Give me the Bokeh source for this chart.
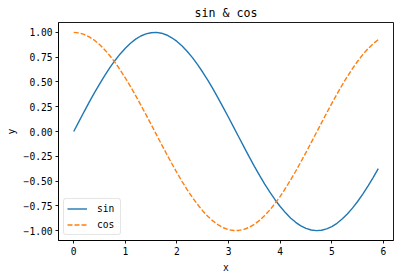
from bokeh.plotting import figure
from bokeh.models import Range1d, FixedTicker, Legend, LegendItem
from bokeh.embed import file_html
from bokeh.resources import INLINE

# sample positions and the two curves
x_vals = [0.0, 0.1, 0.2, 0.3, 0.4, 0.5, 0.6, 0.7, 0.8, 0.9,
          1.0, 1.1, 1.2, 1.3, 1.4, 1.5, 1.6, 1.7, 1.8, 1.9,
          2.0, 2.1, 2.2, 2.3, 2.4, 2.5, 2.6, 2.7, 2.8, 2.9,
          3.0, 3.1, 3.2, 3.3, 3.4, 3.5, 3.6, 3.7, 3.8, 3.9,
          4.0, 4.1, 4.2, 4.3, 4.4, 4.5, 4.6, 4.7, 4.8, 4.9,
          5.0, 5.1, 5.2, 5.3, 5.4, 5.5, 5.6, 5.7, 5.8, 5.9]

sin_vals = [0.000, 0.100, 0.199, 0.296, 0.389, 0.479, 0.565, 0.644, 0.717, 0.783,
            0.841, 0.891, 0.932, 0.964, 0.985, 0.997, 1.000, 0.992, 0.974, 0.946,
            0.909, 0.863, 0.808, 0.746, 0.675, 0.598, 0.516, 0.427, 0.335, 0.239,
            0.141, 0.042, -0.058, -0.158, -0.256, -0.351, -0.443, -0.530, -0.612, -0.688,
            -0.757, -0.818, -0.872, -0.916, -0.952, -0.978, -0.994, -1.000, -0.996, -0.982,
            -0.959, -0.926, -0.883, -0.832, -0.773, -0.706, -0.631, -0.551, -0.465, -0.374]

cos_vals = [1.000, 0.995, 0.980, 0.955, 0.921, 0.878, 0.825, 0.765, 0.697, 0.622,
            0.540, 0.454, 0.362, 0.267, 0.170, 0.071, -0.029, -0.129, -0.227, -0.323,
            -0.416, -0.505, -0.589, -0.666, -0.737, -0.801, -0.857, -0.904, -0.942, -0.971,
            -0.990, -0.999, -0.998, -0.987, -0.967, -0.936, -0.897, -0.848, -0.791, -0.726,
            -0.654, -0.575, -0.490, -0.401, -0.307, -0.211, -0.112, -0.012, 0.087, 0.187,
            0.284, 0.378, 0.469, 0.554, 0.635, 0.709, 0.776, 0.835, 0.886, 0.927]

x_ticks = [0, 1, 2, 3, 4, 5, 6]
x_tick_labels = ["0", "1", "2", "3", "4", "5", "6"]
y_ticks = [-1.0, -0.75, -0.5, -0.25, 0.0, 0.25, 0.5, 0.75, 1.0]
y_tick_labels = ["\u22121.00", "\u22120.75", "\u22120.50", "\u22120.25", "0.00",
                 "0.25", "0.50", "0.75", "1.00"]

FONT = "DejaVu Sans Mono"
TICK_SIZE = "9.6px"

p = figure(width=403, height=278, output_backend="svg", toolbar_location=None,
           title="sin & cos",
           x_range=Range1d(-0.295, 6.195), y_range=Range1d(-1.0996, 1.1),
           min_border_left=58, min_border_right=10,
           min_border_top=22, min_border_bottom=38)
p.background_fill_color = "white"
p.border_fill_color = "white"

p.title.align = "center"
p.title.text_font = FONT
p.title.text_font_size = "11.6px"
p.title.text_font_style = "normal"
p.title.text_color = "black"
p.title.standoff = 5

p.xgrid.visible = False
p.ygrid.visible = False
p.outline_line_color = "black"
p.outline_line_width = 0.9

r_sin = p.line(x_vals, sin_vals, line_color="#1f77b4", line_width=1.4)
r_cos = p.line(x_vals, cos_vals, line_color="#ff7f0e", line_width=1.4,
               line_dash="5 2")

p.xaxis.ticker = FixedTicker(ticks=x_ticks)
p.xaxis.major_label_overrides = {t: l for t, l in zip(x_ticks, x_tick_labels)}
p.yaxis.ticker = FixedTicker(ticks=y_ticks)
p.yaxis.major_label_overrides = {t: l for t, l in zip(y_ticks, y_tick_labels)}
p.xaxis.axis_label = "x"
p.yaxis.axis_label = "y"

for ax in (p.xaxis, p.yaxis):
    ax.axis_line_color = "black"
    ax.axis_line_width = 0.9
    ax.major_tick_line_color = "black"
    ax.major_tick_line_width = 0.9
    ax.major_tick_in = 0
    ax.major_tick_out = 3
    ax.minor_tick_line_color = None
    ax.major_label_text_font = FONT
    ax.major_label_text_font_size = TICK_SIZE
    ax.major_label_text_color = "black"
    ax.major_label_standoff = 3
    ax.axis_label_text_font = FONT
    ax.axis_label_text_font_size = TICK_SIZE
    ax.axis_label_text_font_style = "normal"
    ax.axis_label_text_color = "black"
    ax.axis_label_standoff = 4

p.yaxis.major_label_orientation = "horizontal"

legend = Legend(items=[LegendItem(label="sin", renderers=[r_sin]),
                       LegendItem(label="cos", renderers=[r_cos])],
                location="bottom_left")
legend.margin = 5
legend.padding = 3
legend.spacing = 3
legend.glyph_width = 20
legend.glyph_height = 13
legend.label_height = 13
legend.label_standoff = 10
legend.label_text_font = FONT
legend.label_text_font_size = TICK_SIZE
legend.label_text_color = "black"
legend.border_line_color = "#cccccc"
legend.border_line_width = 1
legend.background_fill_alpha = 0.8
if hasattr(legend, "border_radius"):
    legend.border_radius = 3
p.add_layout(legend, "center")

open("out.html", "w").write(file_html(p, INLINE))
